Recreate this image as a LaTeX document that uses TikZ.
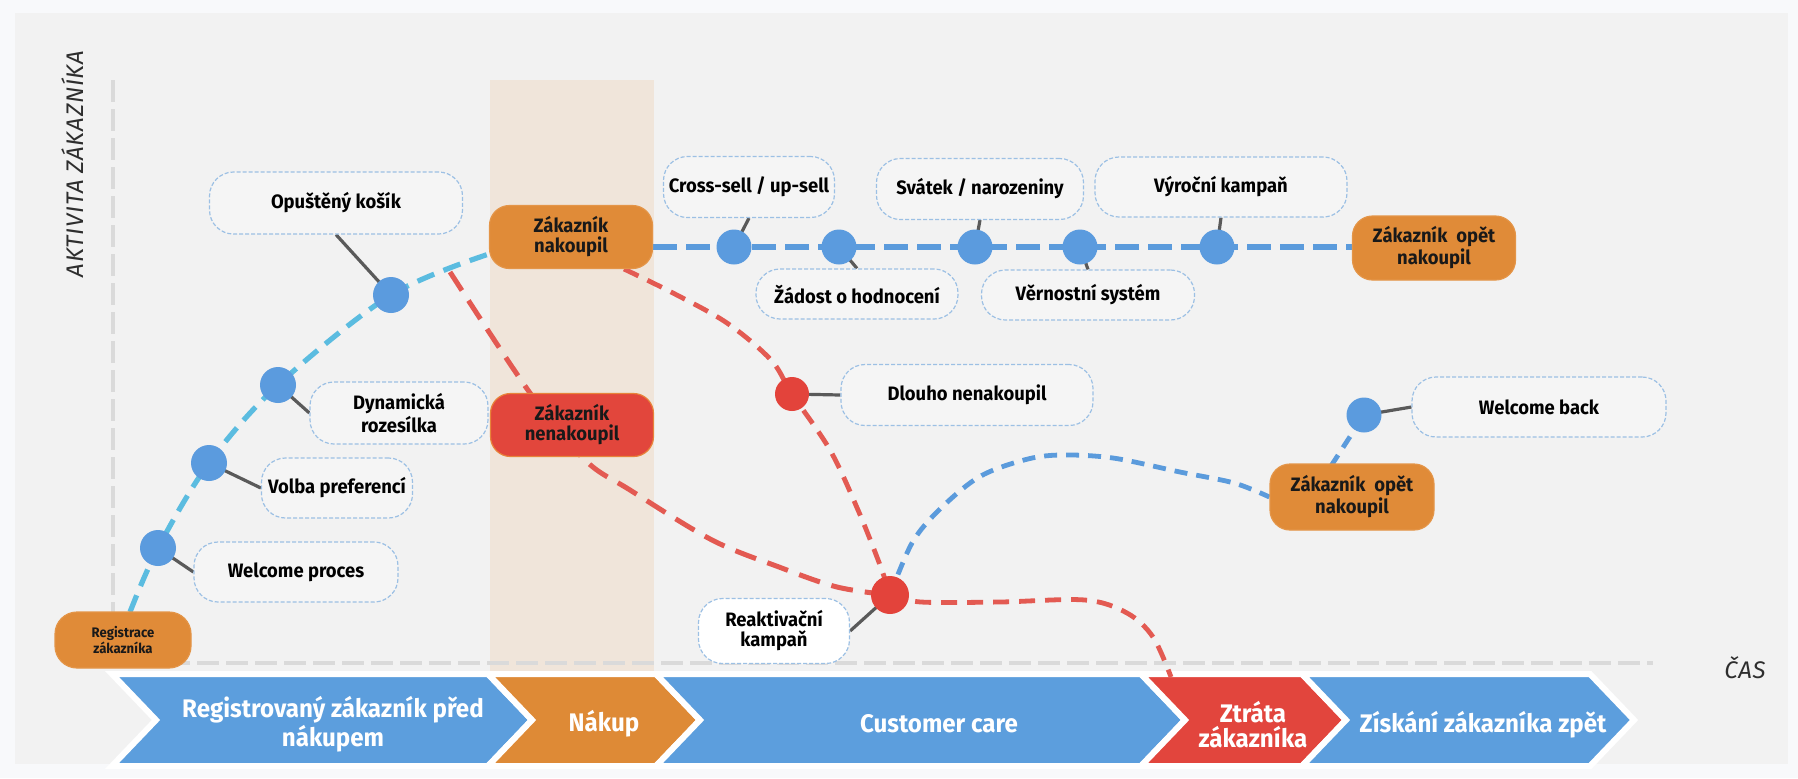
\documentclass[tikz,border=0pt]{standalone}
\usepackage{fontspec}
\setmainfont{Fira Sans}[FakeStretch=0.95]
\newfontfamily\axisfont{Fira Sans}[LetterSpace=3]
\usetikzlibrary{calc}
\definecolor{outerbg}{HTML}{F8F9FB}
\definecolor{panel}{HTML}{F2F2F2}
\definecolor{tan}{HTML}{F0E5DA}
\definecolor{orng}{HTML}{E08B38}
\definecolor{orngb}{HTML}{E49548}
\definecolor{redbox}{HTML}{E2463C}
\definecolor{redboxb}{HTML}{E8833A}
\definecolor{bluech}{HTML}{5C9EDD}
\definecolor{orch}{HTML}{DE8A36}
\definecolor{redch}{HTML}{E2453D}
\definecolor{dotblue}{HTML}{5B9BDE}
\definecolor{dotred}{HTML}{E3433B}
\definecolor{linec}{HTML}{5B9BDC}
\definecolor{cyanc}{HTML}{5BBCE0}
\definecolor{redl}{HTML}{E35A52}
\definecolor{connc}{HTML}{5A5A5A}
\definecolor{lblb}{HTML}{9CC0E4}
\definecolor{lblfill}{HTML}{F5F5F5}
\definecolor{axisc}{HTML}{DADADA}
\definecolor{axistext}{HTML}{2E2E2E}
\pgfdeclarelayer{back}
\pgfdeclarelayer{lines}
\pgfsetlayers{back,lines,main}
\begin{document}
\begin{tikzpicture}[x=0.5pt,y=-0.5pt,
  lbl/.style={draw=lblb, line width=0.6pt, dash pattern=on 2pt off 1pt, fill=lblfill, rounded corners=12pt, align=center, inner sep=0pt, font=\bfseries\fontsize{9.7}{10}\selectfont, text=black},
  obox/.style={fill=orng, draw=orngb, line width=0.6pt, rounded corners=10pt, align=center, inner sep=0pt, font=\bfseries\fontsize{9.7}{10}\selectfont, text=black!90},
  rbox/.style={obox, fill=redbox, draw=redboxb},
  bdot/.style={circle, fill=dotblue, inner sep=0pt, minimum size=17.5pt},
  rdot/.style={circle, fill=dotred, inner sep=0pt, minimum size=17.5pt},
  conn/.style={draw=connc, line width=1.6pt},
  cyanline/.style={draw=cyanc, line width=2.6pt, dash pattern=on 9pt off 5pt},
  blueline/.style={draw=linec, line width=2.6pt, dash pattern=on 12pt off 4.5pt},
  bluecurve/.style={draw=linec, line width=2.4pt, dash pattern=on 6.5pt off 4.5pt},
  redline/.style={draw=redl, line width=2.5pt, dash pattern=on 11pt off 6pt},
  redlinetwo/.style={draw=redl, line width=2.4pt, dash pattern=on 8pt off 5pt},
  axisline/.style={draw=axisc, line width=2pt, dash pattern=on 11pt off 3.5pt},
  phase/.style={draw=white, line width=3pt, line join=miter},
  phtext/.style={text=white, font=\bfseries\fontsize{12.7}{12.5}\selectfont, align=center},
  sz/.style 2 args={minimum width=#1, minimum height=#2},
]
\useasboundingbox (0,0) rectangle (1798,778);

% ---------- nodes ----------
\node[obox, sz={68pt}{28pt}, rounded corners=11pt, font=\bfseries\fontsize{6.9}{7}\selectfont] (reg) at (123,640) {Registrace\\zákazníka};
\node[obox, sz={81.5pt}{31.5pt}] (nak) at (571,237) {Zákazník\\nakoupil};
\node[rbox, sz={81.5pt}{31.5pt}] (nenak) at (572,425) {Zákazník\\nenakoupil};
\node[obox, sz={81.5pt}{32pt}] (opet1) at (1434,248) {Zákazník~~opět\\nakoupil};
\node[obox, sz={82pt}{33pt}] (opet2) at (1352,497) {Zákazník~~opět\\nakoupil};

\node[lbl, sz={126.5pt}{31pt}] (opust) at (336,203) {Opuštěný košík};
\node[lbl, sz={89pt}{31pt}] (dyn) at (399,413) {Dynamická\\rozesílka};
\node[lbl, sz={75.5pt}{30pt}] (volba) at (337,488) {Volba preferencí};
\node[lbl, sz={102pt}{30pt}] (welc) at (296,572) {Welcome proces};
\node[lbl, sz={85.5pt}{30.5pt}] (cs) at (749,187) {Cross-sell / up-sell};
\node[lbl, sz={103.5pt}{30.5pt}] (sv) at (980,189) {Svátek / narozeniny};
\node[lbl, sz={126pt}{30pt}] (vy) at (1221,187) {Výroční kampaň};
\node[lbl, sz={101pt}{25pt}] (zad) at (857,294) {Žádost o hodnocení};
\node[lbl, sz={106.5pt}{25pt}] (ver) at (1088,295) {Věrnostní systém};
\node[lbl, sz={126pt}{30.5pt}] (dl) at (967,395) {Dlouho nenakoupil};
\node[lbl, sz={127pt}{30pt}] (wb) at (1539,407) {Welcome back};
\node[lbl, fill=white, sz={75.5pt}{32.5pt}] (rk) at (774,631) {Reaktivační\\kampaň};

\node[bdot, minimum size=18pt] (d1) at (158,548) {};
\node[bdot, minimum size=18pt] (d2) at (209,463) {};
\node[bdot, minimum size=18pt] (d3) at (278,385) {};
\node[bdot, minimum size=18pt] (d4) at (391,295) {};
\node[bdot] (d5) at (734,247) {};
\node[bdot] (d6) at (839,247) {};
\node[bdot] (d7) at (975,247) {};
\node[bdot] (d8) at (1080,247) {};
\node[bdot] (d9) at (1217,247) {};
\node[rdot, minimum size=17pt] (rd1) at (792,394) {};
\node[rdot, minimum size=19pt] (rd2) at (890,595) {};
\node[bdot] (wbd) at (1364,415) {};

\coordinate (c0) at (130,612);
\coordinate (cend) at (492,253);
\coordinate (rstart) at (450,272);
\coordinate (nakbot) at (624,269);
\coordinate (zend) at (1171,677);
\coordinate (o2top) at (1331,466);

% ---------- axis labels ----------
\node[rotate=90, font=\axisfont\itshape\fontsize{12}{13}\selectfont, text=axistext] (ylab) at (73,164) {AKTIVITA ZÁKAZNÍKA};
\node[font=\axisfont\itshape\fontsize{12}{13}\selectfont, text=axistext] (xlab) at (1745,668) {ČAS};

% ---------- phases ----------
\node[phtext] (ph1) at (333,724) {Registrovaný zákazník před\\nákupem};
\node[phtext] (ph2) at (604,724) {Nákup};
\node[phtext] (ph3) at (939,724) {Customer care};
\node[phtext] (ph4) at (1253,725) {Ztráta\\zákazníka};
\node[phtext] (ph5) at (1483,725) {Získání zákazníka zpět};

\begin{pgfonlayer}{back}
\fill[outerbg] (0,0) rectangle (1798,778);
\fill[panel] (15,13) rectangle (1788,764);
\fill[tan] (490,80) rectangle (654,676);
\draw[axisline] (113,80) -- (113,663) -- (1653,663);
\path[fill=bluech, phase] (112,674) -- (488,674) -- (532,720) -- (488,766) -- (112,766) -- (156,720) -- cycle;
\path[fill=orch, phase] (488,674) -- (656,674) -- (700,720) -- (656,766) -- (488,766) -- (532,720) -- cycle;
\path[fill=bluech, phase] (656,674) -- (1141,674) -- (1185,720) -- (1141,766) -- (656,766) -- (700,720) -- cycle;
\path[fill=redch, phase] (1141,674) -- (1302,674) -- (1346,720) -- (1302,766) -- (1141,766) -- (1185,720) -- cycle;
\path[fill=bluech, phase] (1302,674) -- (1590,674) -- (1634,720) -- (1590,766) -- (1302,766) -- (1346,720) -- cycle;
\end{pgfonlayer}

\begin{pgfonlayer}{lines}
% pre-purchase curve
\draw[cyanline] plot[smooth, tension=0.55] coordinates {(c0) (d1.center) (d2.center) (d3.center) (d4.center) (cend)};
% not purchased
\draw[redline] plot[smooth, tension=0.55] coordinates {(rstart) (530,393) (585,460) (630,490) (712,540) (779,567) (837,587) (rd2.center)};
% purchased -> long time no purchase
\draw[redlinetwo] plot[smooth, tension=0.55] coordinates {(nakbot) (673,293) (727,323) (771,360) (rd1.center) (830,450) (858,510) (880,565) (rd2.center)};
% lost customer
\draw[redlinetwo] plot[smooth, tension=0.55] coordinates {(rd2.center) (921,602) (1000,602) (1085,600) (1127,613) (1153,637) (zend)};
% reactivation
\draw[bluecurve] plot[smooth, tension=0.55] coordinates {(rd2.center) (912,543) (939,510) (979,477) (1024,460) (1060,455) (1113,458) (1180,472) (1234,483) (opet2.west)};
\draw[bluecurve] (o2top) -- (wbd.center);
% customer care line
\draw[blueline] (nak.east |- d5.center) -- (opet1.west |- d5.center);
% connectors
\draw[conn] (opust.south) -- (d4.center);
\draw[conn] (d3.center) -- (dyn.west);
\draw[conn] (d2.center) -- (volba.west);
\draw[conn] (d1.center) -- (welc.west);
\draw[conn] (cs.south) -- (d5.center);
\draw[conn] (d6.center) -- (zad.north);
\draw[conn] (sv.south) -- (d7.center);
\draw[conn] (d8.center) -- (ver.north);
\draw[conn] (vy.south) -- (d9.center);
\draw[conn] (rd1.center) -- (dl.west);
\draw[conn] (rd2.center) -- (rk.east);
\draw[conn] (wbd.center) -- (wb.west);
\end{pgfonlayer}
\end{tikzpicture}
\end{document}
